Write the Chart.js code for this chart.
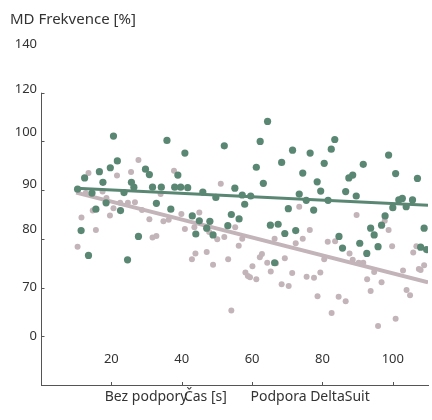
<!DOCTYPE html>
<html>
<head>
<meta charset="utf-8">
<script src="https://cdn.jsdelivr.net/npm/chart.js@4.4.1/dist/chart.umd.min.js"></script>
<style>
  html, body { margin: 0; padding: 0; background: #fff; }
  #wrap { width: 432px; height: 420px; }
</style>
</head>
<body>
<div id="wrap"><canvas id="chart"></canvas></div>
<script>
// series names (legend)
const legendNames = ['Bez podpory', 'Podpora DeltaSuit'];

// [time s, MD frequency %]
const noSupport = [
  [10.4,78.4],[11.5,84.4],[12.7,89.4],[13.5,93.5],[14.7,85.8],[15.6,81.8],[17.5,89.7],[18.6,88.4],
  [19.6,84.8],[20.6,86.3],[21.6,93.0],[22.5,87.4],[24.7,87.4],[25.6,93.7],[26.7,87.5],[27.7,96.2],
  [28.7,85.9],[30.8,84.0],[31.7,80.3],[32.8,80.6],[34.0,89.2],[34.8,83.6],[36.3,83.9],[37.8,94.0],
  [39.9,85.1],[40.9,82.0],[42.9,75.8],[43.6,82.4],[43.9,77.0],[45.0,85.4],[47.1,77.3],[47.8,81.4],
  [48.9,74.7],[50.1,79.9],[51.1,91.3],[52.1,80.4],[53.2,75.8],[54.1,65.3],[55.2,82.4],[56.2,78.6],
  [57.2,80.0],[58.1,73.1],[58.8,72.4],[59.4,72.1],[60.1,74.4],[61.2,71.7],[62.2,76.2],[62.8,76.9],
  [64.3,75.1],[65.3,73.3],[66.4,80.0],[66.8,75.0],[68.4,70.7],[69.3,76.0],[70.4,70.3],[71.4,73.0],
  [72.4,79.1],[73.4,86.6],[74.4,80.0],[75.5,72.2],[76.4,81.8],[77.6,72.0],[78.6,68.2],[79.4,73.1],
  [80.5,75.8],[81.5,79.4],[82.6,64.8],[83.6,79.5],[84.6,68.1],[86.6,67.2],[87.7,77.0],[88.6,75.7],
  [89.7,84.9],[90.3,75.1],[91.6,75.1],[92.7,71.7],[93.7,69.3],[94.7,73.2],[95.8,62.1],[96.8,71.1],
  [97.7,83.7],[98.8,81.8],[99.8,78.5],[100.8,63.6],[102.9,73.5],[103.9,69.5],[104.9,68.4],[105.8,77.2],
  [106.7,78.5],[107.4,73.8],[107.9,73.6],[108.9,74.6]
];

const deltaSuit = [
  [10.4,90.2],[11.4,81.7],[12.4,92.5],[13.5,76.6],[14.5,89.4],[15.6,86.1],[16.6,93.8],[17.6,91.6],
  [18.5,87.4],[19.7,94.6],[20.6,101.1],[21.7,96.0],[22.6,85.8],[23.6,89.5],[24.6,75.7],[25.7,91.6],
  [26.4,90.6],[27.7,80.5],[29.7,94.3],[30.8,93.2],[31.7,90.6],[32.8,87.3],[34.2,90.6],[35.8,100.2],
  [36.9,86.1],[38.0,90.6],[38.9,93.1],[39.7,90.6],[40.9,97.6],[41.7,90.5],[43.0,84.7],[44.0,81.0],
  [45.0,83.7],[46.0,89.6],[47.1,82.2],[48.0,83.6],[48.9,80.8],[49.7,88.5],[52.1,99.1],[53.1,82.7],
  [54.1,85.0],[55.1,90.4],[56.3,84.1],[57.2,89.0],[57.9,87.1],[59.6,88.8],[61.2,94.7],[62.3,100.0],
  [63.2,91.4],[64.4,104.1],[65.2,82.8],[66.4,75.1],[67.4,83.0],[68.4,95.7],[69.3,81.1],[70.3,86.2],
  [71.5,98.2],[72.4,81.7],[73.4,89.2],[74.4,93.5],[75.4,87.9],[76.5,97.6],[77.5,85.9],[78.5,91.7],
  [79.5,89.8],[80.5,95.5],[81.6,87.9],[82.5,98.4],[83.5,100.4],[84.7,80.5],[85.7,78.1],[86.6,89.7],
  [87.5,92.5],[88.6,93.1],[89.6,88.8],[90.6,79.1],[91.6,95.3],[92.6,77.0],[93.7,82.2],[94.7,80.8],
  [95.8,78.4],[96.8,82.8],[97.8,84.7],[98.8,97.2],[100.0,86.4],[100.8,93.4],[101.7,88.0],[102.7,88.3],
  [103.8,86.6],[105.6,88.0],[107.0,92.4],[107.9,78.3],[108.9,82.2],[109.6,77.8]
];

// trend lines, ends only
const trendX = [10, 110];
const noSupportTrend = [89.5, 71.1];
const deltaSuitTrend = [90.4, 86.9];

// axis ticks (the y labels sit where the picture has them)
const xTicks = [20, 40, 60, 80, 100];
const yTickValues = [60, 70, 82, 91.3, 101.8, 110.8, 120];
const yTickLabels = ['0', '70', '80', '90', '100', '120', '140'];
const yMarks = [60, 70, 80, 90, 100, 110];
const yAxisTop = 110;

const GREEN = '#5a8773';
const PINK = '#c3b4b9';
const TEXT = '#333';

Chart.defaults.font.family = '"Noto Sans", sans-serif';
Chart.defaults.color = TEXT;

const toPoints = arr => arr.map(p => ({ x: p[0], y: p[1] }));
const toLine = ys => trendX.map((x, i) => ({ x: x, y: ys[i] }));

// axis line on the left starts at 110, plus short tick marks
const axisLines = {
  id: 'axisLines',
  beforeDatasetsDraw(chart) {
    const { ctx, chartArea, scales: { x, y } } = chart;
    const left = Math.round(chartArea.left) + 0.5;
    const bottom = chartArea.bottom;
    ctx.save();
    ctx.strokeStyle = '#555';
    ctx.lineWidth = 1;
    ctx.beginPath();
    ctx.moveTo(left, y.getPixelForValue(yAxisTop));
    ctx.lineTo(left, bottom);
    yMarks.forEach(v => {
      const py = Math.round(y.getPixelForValue(v)) + 0.5;
      ctx.moveTo(left, py);
      ctx.lineTo(left + 3, py);
    });
    xTicks.forEach(v => {
      const px = Math.round(x.getPixelForValue(v)) + 0.5;
      ctx.moveTo(px, bottom);
      ctx.lineTo(px, bottom - 3);
    });
    ctx.stroke();
    ctx.restore();
  }
};

new Chart(document.getElementById('chart'), {
  type: 'scatter',
  data: {
    datasets: [
      { type: 'line', data: toLine(deltaSuitTrend), borderColor: GREEN, borderWidth: 3, pointRadius: 0, fill: false },
      { label: legendNames[1], data: toPoints(deltaSuit), backgroundColor: GREEN, borderWidth: 0, pointRadius: 3.6 },
      { type: 'line', data: toLine(noSupportTrend), borderColor: PINK, borderWidth: 4, pointRadius: 0, fill: false },
      { label: legendNames[0], data: toPoints(noSupport), backgroundColor: PINK, borderWidth: 0, pointRadius: 3 }
    ]
  },
  options: {
    responsive: true,
    maintainAspectRatio: false,
    animation: false,
    layout: { padding: { left: 10, right: 0, top: 0, bottom: 6 } },
    plugins: {
      tooltip: { enabled: false },
      title: {
        display: true,
        text: 'MD Frekvence [%]',
        align: 'start',
        color: TEXT,
        font: { size: 15, weight: 'normal' },
        padding: { top: 11, bottom: 15 }
      },
      legend: {
        position: 'bottom',
        labels: {
          boxWidth: 51,
          padding: 5,
          font: { size: 14 },
          color: TEXT,
          generateLabels() {
            return legendNames.map((name, i) => ({
              // trailing spaces on the last item move the centred row left
              text: i === 1 ? name + '       ' : name,
              fillStyle: 'rgba(0,0,0,0)',
              strokeStyle: 'rgba(0,0,0,0)',
              lineWidth: 0,
              hidden: false,
              fontColor: TEXT,
              datasetIndex: i === 0 ? 3 : 1
            }));
          }
        }
      }
    },
    scales: {
      x: {
        type: 'linear',
        min: 0,
        max: 110,
        afterBuildTicks: s => { s.ticks = xTicks.map(v => ({ value: v })); },
        afterFit: s => { s.height = 0; },
        grid: { display: false, drawTicks: false },
        border: { display: true, color: '#555', width: 1 },
        // mirror keeps the labels from being clipped to the (zero-height) scale box,
        // and flips them up into the plot like in the picture
        ticks: { mirror: true, padding: 18.2, autoSkip: false, maxRotation: 0, font: { size: 13 }, color: TEXT },
        title: {
          display: true,
          // trailing spaces pull the centred title left, into the legend gap
          text: 'Čas [s]'.padEnd(23, ' '),
          color: TEXT,
          font: { size: 14 },
          padding: { top: 0, bottom: -20.4 }
        }
      },
      y: {
        type: 'linear',
        min: 50,
        max: 120,
        afterBuildTicks: s => { s.ticks = yTickValues.map(v => ({ value: v })); },
        afterFit: s => { s.width = 31; },
        grid: { display: false, drawTicks: false },
        border: { display: false },
        ticks: {
          padding: 4,
          autoSkip: false,
          font: { size: 13 },
          color: TEXT,
          callback: (v, i) => yTickLabels[i]
        }
      }
    }
  },
  plugins: [axisLines]
});
</script>
</body>
</html>
